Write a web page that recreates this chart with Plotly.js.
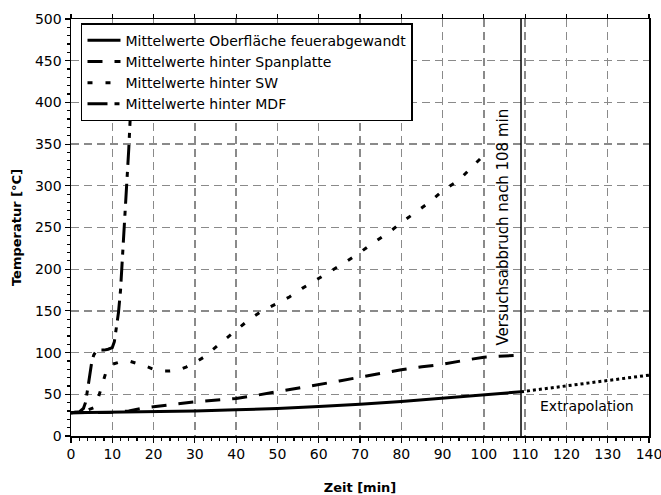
<!DOCTYPE html>
<html>
<head>
<meta charset="utf-8">
<script src="https://cdn.plot.ly/plotly-3.0.1.min.js"></script>
<style>
  html, body { margin: 0; padding: 0; background: #fff; }
  #chart { width: 661px; height: 495px; }
</style>
</head>
<body>
<div id="chart"></div>
<script>
// Mittelwerte Oberfläche feuerabgewandt (gemessen)
const tOberflaeche = [0, 10, 20, 30, 40, 50, 60, 70, 80, 90, 100, 109];
const TOberflaeche = [28, 28.5, 29, 30, 31.5, 33, 35.5, 38, 41.5, 45.5, 49.5, 53];

// Extrapolation der Oberflächentemperatur
const tExtrapolation = [109, 140];
const TExtrapolation = [53, 73];

// Mittelwerte hinter Spanplatte
const tSpanplatte = [0, 5, 10, 14, 17, 20, 23, 27, 30, 34, 37, 40, 44, 47, 50, 55, 60, 65, 70, 75, 80, 85, 90, 95, 100, 105, 109];
const TSpanplatte = [28, 28, 28.5, 30, 33, 35, 37, 39, 41, 42.5, 44, 45, 48, 50.5, 53, 57, 61, 66, 70.5, 75, 79.5, 83, 86, 90.5, 94.5, 96, 97];

// Mittelwerte hinter SW
const tSW = [0, 2, 4, 5.5, 6.5, 7.5, 8.5, 10, 12, 14, 16, 18, 20, 22, 24, 26, 28, 30, 32, 34, 36, 38, 40, 43, 46, 50, 53, 56, 60, 63, 66, 70, 73, 77, 80, 84, 87, 90, 94, 97, 100.5];
const TSW = [28, 29, 31, 34, 44, 62, 77, 86, 89, 90, 87, 84, 80, 78, 78, 79, 83, 88, 94, 102, 111, 119, 126, 139, 149, 159, 167, 177, 189, 197, 207, 220, 231, 244, 256, 270, 281, 294, 307, 322, 339];

// Mittelwerte hinter MDF
const tMDF = [0, 2, 3, 3.5, 4, 4.5, 5, 5.5, 6, 7, 8, 9, 10, 10.5, 11, 11.5, 12, 12.5, 13, 13.5, 14, 14.4];
const TMDF = [28, 29, 33, 40, 55, 72, 88, 97, 101, 103, 103, 104, 106, 113, 128, 148, 175, 215, 258, 300, 345, 387];

const seriesNames = [
  'Mittelwerte Oberfläche feuerabgewandt',
  'Mittelwerte hinter Spanplatte',
  'Mittelwerte hinter SW',
  'Mittelwerte hinter MDF'
];

const xTicks = [0, 10, 20, 30, 40, 50, 60, 70, 80, 90, 100, 110, 120, 130, 140];
const yTicks = [0, 50, 100, 150, 200, 250, 300, 350, 400, 450, 500];

const abbruchZeit = 109;
const abbruchText = 'Versuchsabbruch nach 108 min';
const extrapolationText = 'Extrapolation';

const FONT = '"DejaVu Sans", sans-serif';

const traces = [
  { x: tOberflaeche, y: TOberflaeche, name: seriesNames[0], mode: 'lines',
    line: { color: '#000', width: 3 } },
  { x: tSpanplatte, y: TSpanplatte, name: seriesNames[1], mode: 'lines',
    line: { color: '#000', width: 3, dash: '15px,12px' } },
  { x: tSW, y: TSW, name: seriesNames[2], mode: 'lines',
    line: { color: '#000', width: 3, dash: '5px,13px' } },
  { x: tMDF, y: TMDF, name: seriesNames[3], mode: 'lines',
    line: { color: '#000', width: 3, dash: '20px,7px,5px,7px' } },
  { x: tExtrapolation, y: TExtrapolation, mode: 'lines', showlegend: false,
    line: { color: '#000', width: 3, dash: '3px,3px' }, hoverinfo: 'skip' },
  { x: [], y: [], xaxis: 'x2', yaxis: 'y', showlegend: false, hoverinfo: 'skip', mode: 'lines' }
];

const axisCommon = {
  showline: true, linecolor: '#000', linewidth: 1.5,
  ticks: 'outside', tickcolor: '#000', tickwidth: 1.2, ticklen: 5,
  showgrid: true, gridcolor: '#8a8a8a', gridwidth: 1.3, griddash: '8px,5px',
  zeroline: false, mirror: true,
  tickfont: { family: FONT, size: 14, color: '#000' }
};

const layout = {
  width: 661, height: 495,
  margin: { l: 71, r: 12, t: 19, b: 59 },
  paper_bgcolor: '#fff', plot_bgcolor: '#fff',
  font: { family: FONT, size: 14, color: '#000' },
  showlegend: true,
  xaxis: Object.assign({}, axisCommon, {
    range: [0, 140], tickvals: xTicks, ticklabeloverflow: 'allow',
    minor: { dtick: 2, tick0: 0, ticks: 'outside', ticklen: 3.5, tickcolor: '#000', tickwidth: 1.2 },
    title: { text: 'Zeit [min]', font: { family: FONT, size: 13, weight: 'bold', color: '#000' }, standoff: 21 }
  }),
  xaxis2: {
    overlaying: 'x', side: 'top', anchor: 'y', range: [0, 140], tickvals: xTicks,
    ticks: 'outside', ticklen: 4, tickwidth: 1.2, tickcolor: '#000',
    showticklabels: false, showgrid: false, zeroline: false, showline: false
  },
  yaxis: Object.assign({}, axisCommon, {
    range: [0, 500], tickvals: yTicks,
    minor: { dtick: 10, tick0: 0, ticks: 'outside', ticklen: 3, tickcolor: '#000', tickwidth: 1.2 },
    title: { text: 'Temperatur [°C]', font: { family: FONT, size: 13, weight: 'bold', color: '#000' }, standoff: 10 }
  }),
  legend: {
    x: 0.0173, y: 0.99, xanchor: 'left', yanchor: 'top',
    bgcolor: '#fff', bordercolor: '#000', borderwidth: 1.5,
    font: { family: FONT, size: 14, color: '#000' },
    itemwidth: 33, tracegroupgap: 0
  },
  shapes: [
    { type: 'line', xref: 'x', yref: 'y', x0: abbruchZeit, x1: abbruchZeit, y0: 0, y1: 500,
      line: { color: '#000', width: 1.5 } }
  ],
  annotations: [
    { x: 104.6, y: 251, xref: 'x', yref: 'y', text: abbruchText, textangle: -90,
      showarrow: false, xanchor: 'center', yanchor: 'middle',
      font: { family: FONT, size: 15, color: '#000' } },
    { x: 125.1, y: 35.6, xref: 'x', yref: 'y', text: extrapolationText,
      showarrow: false, xanchor: 'center', yanchor: 'middle',
      font: { family: FONT, size: 14, color: '#000' } }
  ]
};

Plotly.newPlot('chart', traces, layout, { displayModeBar: false, staticPlot: true });
</script>
</body>
</html>
